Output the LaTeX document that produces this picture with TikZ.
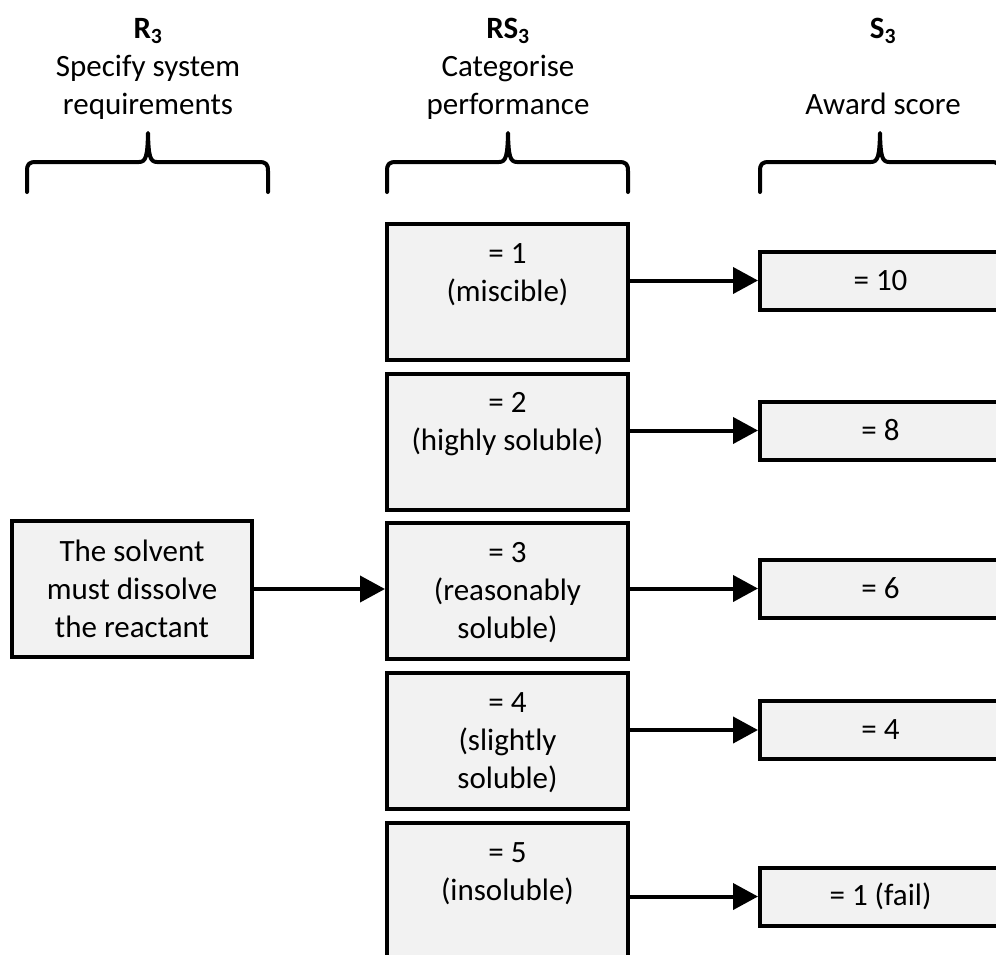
\documentclass[tikz,border=0pt]{standalone}
\usepackage{fontspec}
\setmainfont{Carlito}
\usetikzlibrary{arrows.meta}
\definecolor{boxfill}{RGB}{242,242,242}
\begin{document}
\begin{tikzpicture}[x=1pt,y=-1pt,
  txt/.style={font=\fontsize{31}{38}\selectfont, align=center, inner sep=0pt},
  rsbox/.style={draw, line width=4pt, fill=boxfill, minimum width=241pt, minimum height=136pt, inner sep=0pt},
  scbox/.style={draw, line width=4pt, fill=boxfill, minimum width=241pt, minimum height=58pt, inner sep=0pt, font=\fontsize{31}{38}\selectfont},
  reqbox/.style={draw, line width=4pt, fill=boxfill, minimum width=240pt, minimum height=136pt, inner sep=0pt, align=center, font=\fontsize{31}{38}\selectfont},
  bracepath/.style={line width=4pt, line join=round, line cap=round},
  arr/.style={line width=4pt, -{Triangle[length=25pt,width=26pt]}}
]
\useasboundingbox (0,0) rectangle (996,954);
\clip (0,0) rectangle (996,954);

% headers
\node[txt, anchor=north] (h1) at (148,11.4) {\strut\textbf{R\textsubscript{3}}\\Specify system\\requirements};
\node[txt, anchor=north] (h2) at (508,11.4) {\strut\textbf{RS\textsubscript{3}}\\Categorise\\performance};
\node[txt, anchor=north] (h3) at (883,11.4) {\strut\textbf{S\textsubscript{3}}\\\strut\\Award score};

% braces
\foreach \a/\c/\b in {27/148/268, 387/508/628, 760/880/1000} {
  \draw[bracepath] (\a,192) -- (\a,171)
    .. controls (\a,164) and ({\a+2},162) .. ({\a+9},162)
    -- ({\c-9},162)
    .. controls ({\c-2},162) and ({\c-0.5},156) .. (\c,133)
    .. controls ({\c+0.5},156) and ({\c+2},162) .. ({\c+9},162)
    -- ({\b-9},162)
    .. controls ({\b-2},162) and (\b,164) .. (\b,171)
    -- (\b,192);
}

% categorise boxes
\node[rsbox, anchor=north] (rs1) at (507.5,222) {};
\node[rsbox, anchor=north] (rs2) at (507.5,371.5) {};
\node[rsbox, anchor=north] (rs3) at (507.5,521) {};
\node[rsbox, anchor=north] (rs4) at (507.5,671) {};
\node[rsbox, anchor=north] (rs5) at (507.5,821) {};
\node[txt, anchor=north] (rt1) at ([yshift=-14.4pt]rs1.north) {\strut= 1\\(miscible)};
\node[txt, anchor=north] (rt2) at ([yshift=-14.4pt]rs2.north) {\strut= 2\\(highly soluble)};
\node[txt, anchor=north] (rt3) at ([yshift=-14.4pt]rs3.north) {\strut= 3\\(reasonably\\soluble)};
\node[txt, anchor=north] (rt4) at ([yshift=-14.4pt]rs4.north) {\strut= 4\\(slightly\\soluble)};
\node[txt, anchor=north] (rt5) at ([yshift=-14.4pt]rs5.north) {\strut= 5\\(insoluble)};

% score boxes
\node[scbox] (sc1) at (880.5,280.5) {= 10};
\node[scbox] (sc2) at (880.5,430.5) {= 8};
\node[scbox] (sc3) at (880.5,588.5) {= 6};
\node[scbox] (sc4) at (880.5,730) {= 4};
\node[scbox] (sc5) at (880.5,896.5) {= 1 (fail)};

% requirement box
\node[reqbox] (req) at (132,589) {The solvent\\must dissolve\\the reactant};

% connectors
\draw[arr] (req.east) -- (req.east -| rs3.west);
\foreach \i in {1,...,5} {
  \draw[arr] (sc\i.west -| rs\i.east) -- (sc\i.west);
}
\end{tikzpicture}
\end{document}
